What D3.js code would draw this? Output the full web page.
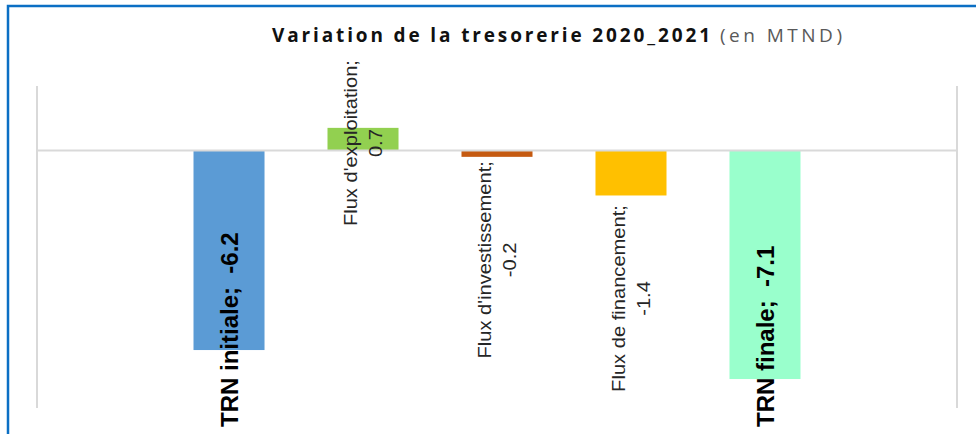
<!doctype html>
<html>
<head>
    <meta charset="utf-8">
    <script src="https://d3js.org/d3.v7.min.js"></script>
    <style>
        body { margin: 0; background: #fff; }
        svg { display: block; }
    </style>
</head>
<body>
    <svg id="chart" width="976" height="434"></svg>
<script>
    // values in MTND
    var categories = ["TRN initiale", "Flux d'exploitation", "Flux d'investissement", "Flux de financement", "TRN finale"];
    var values = [-6.2, 0.7, -0.2, -1.4, -7.1];
    var colors = ["#5B9BD5", "#92D050", "#C55A11", "#FFC000", "#99FFCC"];
    var totals = [true, false, false, false, true];   // bold big labels for the totals
    var yDomain = [-8, 2];

    var svg = d3.select("#chart");

    // outer frame (blue edge of the screenshot)
    svg.append("path")
        .attr("d", "M8,434V6H976")
        .attr("fill", "none")
        .attr("stroke", "#0B6FC4")
        .attr("stroke-width", 2.5);

    // title
    svg.append("text")
        .attr("x", 272).attr("y", 42)
        .attr("textLength", 438).attr("lengthAdjust", "spacing")
        .style("font-family", "'Open Sans', sans-serif")
        .style("font-weight", "bold")
        .style("font-size", "19px")
        .attr("fill", "#111")
        .text("Variation de la tresorerie 2020_2021");
    svg.append("text")
        .attr("x", 720).attr("y", 42)
        .attr("textLength", 122).attr("lengthAdjust", "spacing")
        .style("font-family", "'Open Sans', sans-serif")
        .style("font-size", "19px")
        .attr("fill", "#595959")
        .text("(en MTND)");

    var x = d3.scaleBand()
        .domain(categories)
        .range([37, 957])
        .paddingInner(0.47)
        .paddingOuter(1.168);

    var y = d3.scaleLinear()
        .domain(yDomain)
        .range([408, 86]);

    // side lines of the plot area
    svg.append("g").selectAll("line")
        .data(x.range())
        .enter()
        .append("line")
        .attr("x1", d => d).attr("x2", d => d)
        .attr("y1", y(yDomain[1])).attr("y2", y(yDomain[0]))
        .attr("stroke", "#D9D9D9")
        .attr("stroke-width", 2);

    var data = categories.map((c, i) => ({ name: c, value: values[i], color: colors[i], total: totals[i] }));

    // bars
    svg.append("g").selectAll("rect")
        .data(data)
        .enter()
        .append("rect")
        .attr("x", d => x(d.name))
        .attr("width", x.bandwidth())
        .attr("y", d => y(Math.max(0, d.value)))
        .attr("height", d => Math.abs(y(d.value) - y(0)))
        .attr("fill", d => d.color);

    // zero line
    svg.append("line")
        .attr("x1", x.range()[0]).attr("x2", x.range()[1])
        .attr("y1", y(0)).attr("y2", y(0))
        .attr("stroke", "#D9D9D9")
        .attr("stroke-width", 2);

    // big bold labels for the totals
    svg.append("g").selectAll("text")
        .data(data.filter(d => d.total))
        .enter()
        .append("text")
        .attr("transform", d => "translate(" + (x(d.name) + x.bandwidth() / 2) + "," + (y(yDomain[0]) + 19) + ") rotate(-90)")
        .attr("dy", "0.38em")
        .attr("text-anchor", "start")
        .style("font-family", "'Liberation Sans', Arial, sans-serif")
        .style("font-weight", "bold")
        .style("font-size", "24px")
        .style("white-space", "pre")
        .attr("fill", "#000")
        .text(d => d.name + ";  " + d.value);

    // two line labels for the flows
    var stretch = 1.06;
    var flows = svg.append("g").selectAll("text")
        .data(data.filter(d => !d.total))
        .enter()
        .append("text")
        .attr("text-anchor", "middle")
        .style("font-family", "'Liberation Sans', Arial, sans-serif")
        .style("font-size", "19px")
        .attr("fill", "#262626");
    flows.append("tspan").attr("x", 0).attr("dy", "-0.3em").text(d => d.name + ";");
    flows.append("tspan").attr("x", 0).attr("dy", "1.3em").text(d => d.value);

    flows.attr("transform", function (d) {
        var half = this.getBBox().width * stretch / 2;
        var cy = d.value < 0 ? y(d.value) + 103 : Math.max(y(d.value) - 103, 60 + half);
        return "translate(" + (x(d.name) + x.bandwidth() / 2) + "," + cy + ") rotate(-90) scale(" + stretch + ",1)";
    });
</script>
</body>
</html>
